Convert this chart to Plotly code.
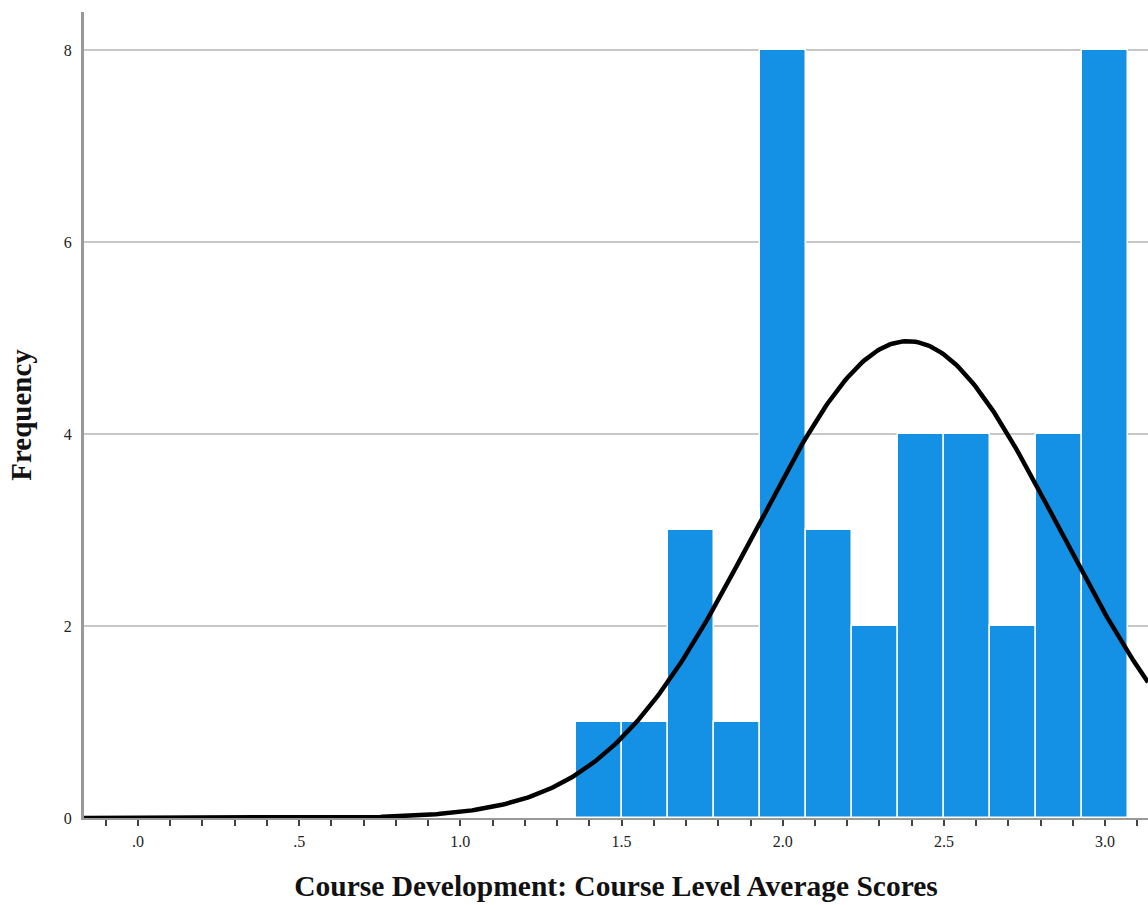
import numpy as np
import plotly.graph_objects as go

# Histogram data
bin_start = 1.3586
bin_width = 0.1428
frequencies = [1, 1, 3, 1, 8, 3, 2, 4, 4, 2, 4, 8]
n_total = sum(frequencies)

# Fitted normal curve parameters (as drawn by SPSS)
curve_mean = 2.388
curve_sd = 0.470

x_tick_vals = [0.0, 0.5, 1.0, 1.5, 2.0, 2.5, 3.0]
x_tick_text = [".0", ".5", "1.0", "1.5", "2.0", "2.5", "3.0"]
y_tick_vals = [0, 2, 4, 6, 8]

x_range = [-0.1675, 3.133]
y_range = [0, 8.4]

bin_centers = [bin_start + bin_width * (i + 0.5) for i in range(len(frequencies))]

cx = np.linspace(x_range[0], x_range[1], 500)
cy = n_total * bin_width / (curve_sd * np.sqrt(2 * np.pi)) * np.exp(-0.5 * ((cx - curve_mean) / curve_sd) ** 2)

fig = go.Figure()
fig.add_trace(go.Bar(
    x=bin_centers, y=frequencies, width=[bin_width] * len(frequencies),
    marker=dict(color="#1490E4", line=dict(color="white", width=1.5)),
    hoverinfo="x+y", showlegend=False,
))
fig.add_trace(go.Scatter(
    x=cx, y=cy, mode="lines", line=dict(color="black", width=4.5),
    showlegend=False, hoverinfo="skip",
))

serif = "Liberation Serif, Times New Roman, serif"
fig.update_layout(
    width=1148, height=905,
    margin=dict(l=84, r=0, t=12, b=87),
    paper_bgcolor="white", plot_bgcolor="white",
    bargap=0,
    font=dict(family=serif, color="#222"),
    xaxis=dict(
        range=x_range, tickmode="array", tickvals=x_tick_vals, ticktext=x_tick_text,
        showgrid=False, zeroline=False, showline=True, linecolor="#999", linewidth=2,
        ticks="outside", ticklen=0, tickcolor="#444", tickwidth=1.5,
        ticklabelstandoff=8,
        minor=dict(dtick=0.1, tick0=0, ticks="outside", ticklen=6, tickcolor="#444", tickwidth=1.5, showgrid=False),
        tickfont=dict(family=serif, size=16, color="#222"),
        title=dict(text="<b>Course Development: Course Level Average Scores</b>",
                   font=dict(family=serif, size=29.5, color="#111"), standoff=26),
    ),
    yaxis=dict(
        range=y_range, tickmode="array", tickvals=y_tick_vals,
        showgrid=True, gridcolor="#c8c8c8", gridwidth=1.5,
        zeroline=False, showline=True, linecolor="#999", linewidth=3,
        ticks="", tickfont=dict(family=serif, size=16, color="#222"),
        ticklabelstandoff=6,
        title=dict(text="<b>Frequency</b>", font=dict(family=serif, size=29, color="#111"), standoff=24),
    ),
)

fig.write_html(
    "out.html",
    config={"displayModeBar": False},
    post_script="document.body.style.margin='0';document.body.style.overflow='hidden';",
)
